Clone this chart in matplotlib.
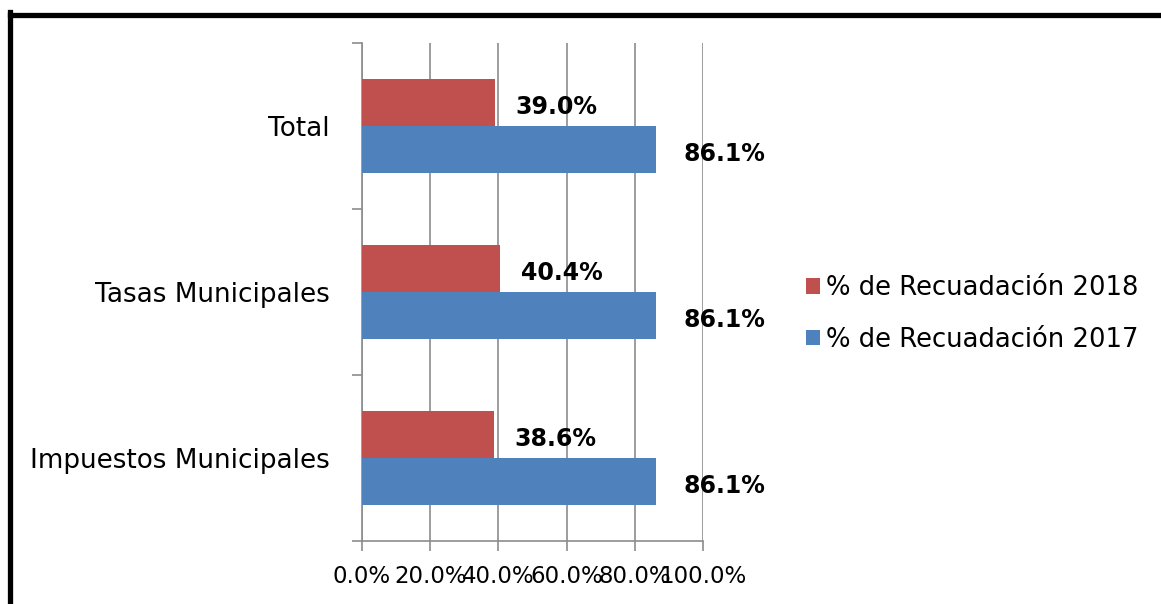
import matplotlib.pyplot as plt
import numpy as np
from matplotlib.lines import Line2D

categories = ["Impuestos Municipales", "Tasas Municipales", "Total"]
rec_2018 = [0.386, 0.404, 0.390]
rec_2017 = [0.861, 0.861, 0.861]
labels_2018 = ["38.6%", "40.4%", "39.0%"]
labels_2017 = ["86.1%", "86.1%", "86.1%"]
xticks = [0.0, 0.2, 0.4, 0.6, 0.8, 1.0]
xtick_labels = ["0.0%", "20.0%", "40.0%", "60.0%", "80.0%", "100.0%"]

red = "#C0504D"
blue = "#4F81BD"
grid_grey = "#8C8C8C"

plt.rcParams["font.family"] = "DejaVu Sans"

fig = plt.figure(figsize=(11.61, 6.04), dpi=100)
ax = fig.add_axes([362 / 1161, 63 / 604, 341 / 1161, 498 / 604])

y = np.arange(len(categories))
h = 0.283
bars18 = ax.barh(y + h / 2, rec_2018, height=h, color=red, label="% de Recuadación 2018", zorder=3)
bars17 = ax.barh(y - h / 2, rec_2017, height=h, color=blue, label="% de Recuadación 2017", zorder=3)

# ── value labels ─────────────────────────────────────────────────────────────
for b, t in zip(bars18, labels_2018):
    ax.annotate(t, (b.get_width(), b.get_y() + b.get_height() / 2), xytext=(15, -3.5),
                textcoords="offset points", va="center", ha="left",
                fontsize=17, fontweight="bold", zorder=4)
for b, t in zip(bars17, labels_2017):
    ax.annotate(t, (b.get_width(), b.get_y() + b.get_height() / 2), xytext=(20, -3.5),
                textcoords="offset points", va="center", ha="left",
                fontsize=17, fontweight="bold", zorder=4)

ax.set_xlim(0, 1.0)
ax.set_ylim(-0.5, 2.5)
ax.set_xticks(xticks)
ax.set_xticklabels(xtick_labels, fontsize=16.5)
ax.tick_params(axis="x", length=7, width=1.2, color=grid_grey, pad=10)
ax.xaxis.grid(True, color=grid_grey, linewidth=1.2, zorder=0)

# category ticks at band edges, labels at centres
ax.set_yticks([-0.5, 0.5, 1.5, 2.5])
ax.set_yticklabels([])
ax.tick_params(axis="y", which="major", length=7, width=1.2, color=grid_grey)
ax.set_yticks(y, minor=True)
ax.set_yticklabels(categories, minor=True, fontsize=18.9)
ax.tick_params(axis="y", which="minor", length=0, pad=23)

for s in ["top", "right"]:
    ax.spines[s].set_visible(False)
for s in ["left", "bottom"]:
    ax.spines[s].set_color(grid_grey)
    ax.spines[s].set_linewidth(1.2)

handles, labs = ax.get_legend_handles_labels()
fig.legend(handles, labs, loc="center left", bbox_to_anchor=(806 / 1161, 1 - 314 / 604),
           frameon=False, fontsize=18.6, handlelength=0.54, handleheight=0.54,
           handletextpad=0.23, labelspacing=1.0, borderpad=0, borderaxespad=0)

# black frame (top and left edges visible)
fig.add_artist(Line2D([9.5 / 1161, 1.0], [1 - 14.5 / 604, 1 - 14.5 / 604],
                      color="black", linewidth=3.8, transform=fig.transFigure))
fig.add_artist(Line2D([9.5 / 1161, 9.5 / 1161], [0, 1 - 12 / 604],
                      color="black", linewidth=3.8, transform=fig.transFigure))

fig.savefig("out.png", dpi=100)
